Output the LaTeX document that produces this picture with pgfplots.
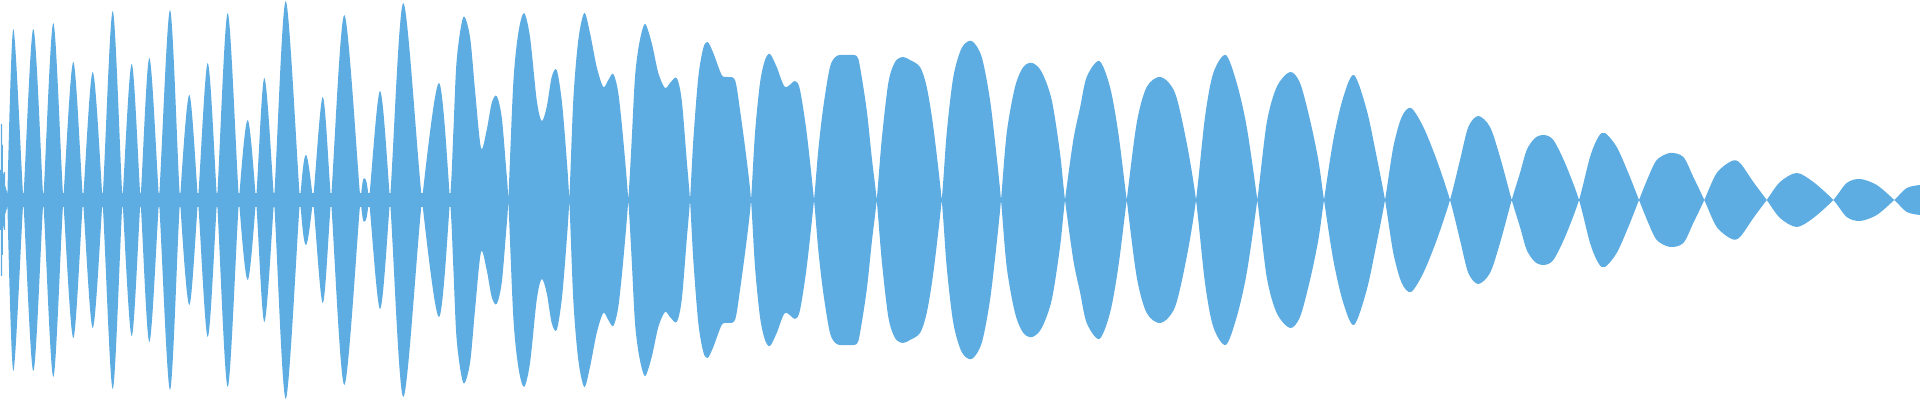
\documentclass[border=0pt]{standalone}
\usepackage{pgfplots}
\usepackage{pgfplotstable}
\pgfplotsset{compat=1.18}
\usepgfplotslibrary{fillbetween}
\definecolor{wc}{RGB}{93,173,226}
\pgfplotstableread{
x y
7.3 0
13.3 171
23.3 0
33.3 -171
43.3 0
53.3 177
63.3 0
73.3 -138
83 0
92.7 128
102.5 0
112.7 -189
122.5 0
131.7 136
140.5 0
149.3 -142
159 0
170 190
180 0
189.3 -105
198 0
207.7 137
217 0
227.7 -187
239 0
247.7 80
256 0
264.3 -122
274 0
285.7 199
300 0
306 -45
313 0
322.7 103
331 0
344.3 -185
360.5 0
365 21
369 0
380 -109
390 0
403.3 197
422 0
439 -117
450 0
453.3 67
456.7 140
463.3 183
470 163
475 110
481 52
486.7 70
491.7 97
496.7 104
501.7 83
506 33
508.3 0
513.3 -117
518.3 -167
524 -187
530 -163
536.7 -100
541.7 -79
546.7 -93
551.7 -123
556.7 -130
561.7 -100
566 -50
569.3 0
573.3 100
578.3 160
584.3 187
590 167
596.7 133
603.3 113
608.3 120
613.3 126
618.3 107
623.3 60
628.3 0
631.7 -60
635 -123
639.3 -157
645 -176
651.7 -157
658.3 -127
665 -112
670 -117
676.7 -122
681.7 -100
686.7 -40
690 0
693.3 60
698.3 123
703.3 152
707.7 158
713.3 147
721.7 125
727.3 123
735 120
740 90
746.7 40
751 0
755 -67
760 -117
765 -140
770 -146
776.7 -133
785 -113
795 -119
800 -110
806.7 -67
814 0
818.3 50
823.3 93
830 133
836.7 144
846.7 145
856.7 144
860 133
866.7 90
871.7 43
876.7 0
881.7 -60
888.3 -117
895 -138
902.7 -143
910 -140
920 -133
926.7 -113
933.3 -73
941.7 0
946.7 67
953.3 123
961.7 152
971.7 159
981.7 143
990 100
996.7 43
1001 0
1006.7 -67
1015 -113
1023.3 -133
1032.3 -137
1041.7 -128
1051.7 -100
1060 -47
1065 0
1073.3 60
1080 92
1086.7 123
1099.3 139
1110 113
1118.3 67
1126.7 0
1136.7 -77
1146.7 -113
1160.7 -123
1175 -107
1186.7 -57
1196 0
1205 83
1213.3 127
1225.7 145
1236.7 117
1246.7 73
1257.3 0
1266.7 -77
1276.7 -113
1290 -128
1300 -117
1310 -80
1318.3 -40
1324 0
1333.3 60
1343.3 103
1354 125
1366.7 90
1376.7 43
1385 0
1393.3 -53
1401.7 -83
1411 -92
1423.3 -73
1436.7 -40
1450 0
1460 40
1468.3 73
1478.3 84
1490 73
1500 43
1511.7 0
1520 -27
1526.7 -50
1535 -62
1544 -65
1553.3 -60
1565 -37
1579 0
1590 43
1598.3 63
1605 67
1616.7 53
1628.3 27
1639 0
1648.3 -23
1656.7 -40
1670 -47
1683.3 -43
1693.3 -23
1704.3 0
1716.7 27
1731.7 39
1740 37
1753.3 18
1766.7 0
1780 -18
1796.7 -27
1813.3 -18
1833.3 0
1846.7 17
1860 21
1876.7 15
1894.3 0
1906.7 -12
1920 -15
}\wave
\begin{document}
\begin{tikzpicture}
\begin{axis}[
  hide axis, scale only axis,
  width=19.2cm, height=4cm,
  xmin=0, xmax=1920, ymin=-200, ymax=200,
]
\path (rel axis cs:0,0) rectangle (rel axis cs:1,1);
\addplot[name path=up, draw=none, smooth] table[x=x,y=y]{\wave};
\addplot[name path=lo, draw=none, smooth] table[x=x,y expr=-\thisrow{y}]{\wave};
\addplot[wc, draw=none] fill between[of=up and lo];
\addplot[fill=wc, draw=none] coordinates {(0,-7) (508,-7) (508,7) (0,7)} -- cycle;
\addplot[fill=wc, draw=none] coordinates {(0,30) (1,30) (1,76) (2,76) (2,55) (3,55) (3,25) (4,28) (5,28) (5,15) (7.3,7) (7.3,-7) (5,-15) (5,-30) (4,-30) (3,-25) (3,-55) (2,-55) (2,-76) (1,-76) (1,-30) (0,-30)} -- cycle;
\end{axis}
\end{tikzpicture}
\end{document}
